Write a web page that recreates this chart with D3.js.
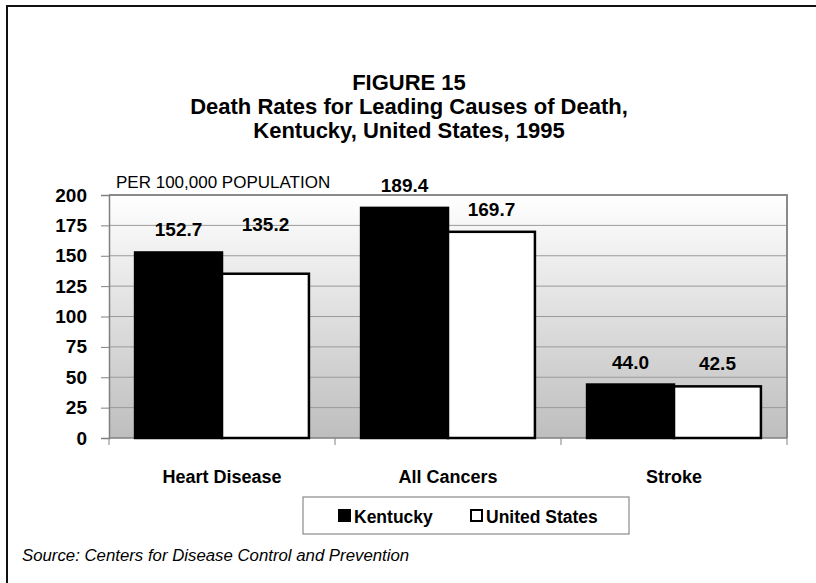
<!DOCTYPE html>
<html><head><meta charset="utf-8">
<script src="https://cdn.jsdelivr.net/npm/d3@7"></script>
<style>
html,body{margin:0;padding:0;background:#fff;}
svg{display:block;font-family:"Liberation Sans",Arial,sans-serif;}
</style></head><body>
<svg id="c" width="816" height="583"></svg>
<script>
const categories = ["Heart Disease", "All Cancers", "Stroke"];
const seriesNames = ["Kentucky", "United States"];
const kentucky = [152.7, 189.4, 44.0];
const unitedStates = [135.2, 169.7, 42.5];
const yTicks = [0, 25, 50, 75, 100, 125, 150, 175, 200];
const titleLines = ["FIGURE 15", "Death Rates for Leading Causes of Death,", "Kentucky, United States, 1995"];
const yLabel = "PER 100,000 POPULATION";
const sourceText = "Source: Centers for Disease Control and Prevention";

const svg = d3.select("#c");
const W = 816, H = 583;
const m = {left:109, right:787, top:195, bottom:438};

// outer frame
svg.append("rect").attr("x",7).attr("y",6).attr("width",W+20).attr("height",H+20)
  .attr("fill","none").attr("stroke","#111").attr("stroke-width",2);

// title
const title = svg.append("text").attr("text-anchor","middle").attr("font-weight","bold")
  .attr("font-size",22).attr("fill","#000");
titleLines.forEach((t,i)=>{
  title.append("tspan").attr("x",409).attr("y",90 + i*24).text(t);
});

const x = d3.scaleBand().domain(categories).range([m.left, m.right]).paddingInner(0).paddingOuter(0);
const xs = d3.scaleBand().domain(seriesNames).range([0, x.bandwidth()]).paddingInner(0).paddingOuter(0.3);
const y = d3.scaleLinear().domain([0,200]).range([m.bottom, m.top]);

// gradient background
const defs = svg.append("defs");
const g = defs.append("linearGradient").attr("id","bg").attr("x1",0).attr("y1",0).attr("x2",0).attr("y2",1);
g.append("stop").attr("offset","0%").attr("stop-color","#ffffff");
g.append("stop").attr("offset","100%").attr("stop-color","#bebebe");
svg.append("rect").attr("x",m.left).attr("y",m.top).attr("width",m.right-m.left).attr("height",m.bottom-m.top)
  .attr("fill","url(#bg)");

// gridlines
svg.append("g").selectAll("line").data(yTicks.filter(d=>d>0)).join("line")
  .attr("x1",m.left).attr("x2",m.right).attr("y1",d=>y(d)).attr("y2",d=>y(d))
  .attr("stroke","#9a9a9a").attr("stroke-width",1);

// plot border top & right
svg.append("path").attr("d",`M${m.left},${m.top}H${m.right}V${m.bottom}`)
  .attr("fill","none").attr("stroke","#8a8a8a").attr("stroke-width",2);

// y axis
const yAxis = d3.axisLeft(y).tickValues(yTicks).tickSize(8).tickPadding(14).tickFormat(d3.format("d"));
const ya = svg.append("g").attr("transform",`translate(${m.left},0)`).call(yAxis);
ya.select(".domain").attr("stroke","#808080").attr("stroke-width",1.5);
ya.selectAll(".tick line").attr("stroke","#808080");
ya.selectAll(".tick text").attr("font-size",19).attr("font-weight","bold").attr("fill","#000")
  .attr("font-family",null);

// x axis
const xa = svg.append("g").attr("transform",`translate(0,${m.bottom})`)
  .call(d3.axisBottom(x).tickSize(0).tickFormat(""));
xa.select(".domain").remove();
xa.append("line").attr("x1",m.left).attr("x2",m.right).attr("stroke","#808080").attr("stroke-width",1.5);
const bounds = [m.left, ...categories.map(c=>x(c)+x.bandwidth())];
xa.selectAll("line.sep").data(bounds).join("line").attr("class","sep")
  .attr("x1",d=>d).attr("x2",d=>d).attr("y1",0).attr("y2",7).attr("stroke","#808080");
svg.append("g").selectAll("text").data(categories).join("text")
  .attr("x",d=>x(d)+x.bandwidth()/2).attr("y",483).attr("text-anchor","middle")
  .attr("font-size",18).attr("font-weight","bold").attr("fill","#000").text(d=>d);

// bars
const rows = categories.map((c,i)=>({cat:c, vals:[{s:seriesNames[0], v:kentucky[i]},{s:seriesNames[1], v:unitedStates[i]}]}));
const fills = {"Kentucky":"#000","United States":"#fff"};
const grp = svg.append("g").selectAll("g").data(rows).join("g").attr("transform",d=>`translate(${x(d.cat)},0)`);
grp.selectAll("rect").data(d=>d.vals).join("rect")
  .attr("x",d=>xs(d.s)).attr("width",xs.bandwidth())
  .attr("y",d=>y(d.v)).attr("height",d=>y(0)-y(d.v))
  .attr("fill",d=>fills[d.s]).attr("stroke","#000").attr("stroke-width",2.5);

// value labels
const nudge = (cat,s)=> (cat==="Heart Disease" && s==="United States") ? 27 : 0;
grp.each(function(r){
  d3.select(this).selectAll("text").data(r.vals).join("text")
    .attr("x",d=>xs(d.s)+xs.bandwidth()/2).attr("y",d=>y(d.v)-16-nudge(r.cat,d.s))
    .attr("text-anchor","middle").attr("font-size",19).attr("font-weight","bold").attr("fill","#000")
    .text(d=>d.v.toFixed(1));
});

// y label
svg.append("text").attr("x",116).attr("y",188).attr("font-size",17).attr("fill","#000").text(yLabel);

// legend
const lg = svg.append("g");
lg.append("rect").attr("x",303).attr("y",497).attr("width",326).attr("height",37)
  .attr("fill","#fff").attr("stroke","#8a8a8a").attr("stroke-width",1.2);
const litems = [{s:seriesNames[0], x:338, tx:354},{s:seriesNames[1], x:470, tx:486}];
litems.forEach(it=>{
  lg.append("rect").attr("x",it.x+1).attr("y",510).attr("width",11).attr("height",11)
    .attr("fill",fills[it.s]).attr("stroke","#000").attr("stroke-width",2);
  lg.append("text").attr("x",it.tx).attr("y",523).attr("font-size",17.5).attr("font-weight","bold").attr("fill","#000").text(it.s);
});

// source
svg.append("text").attr("x",22).attr("y",561).attr("font-size",16.8).attr("font-style","italic")
  .attr("fill","#000").text(sourceText);
</script>
</body></html>
